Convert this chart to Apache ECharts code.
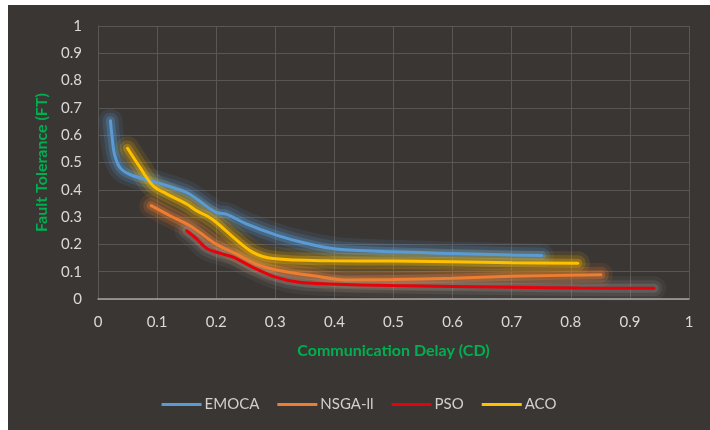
<!DOCTYPE html>
<html>
<head>
<meta charset="utf-8">
<script src="https://cdn.jsdelivr.net/npm/echarts@6/dist/echarts.min.js"></script>
<style>
  html, body { margin: 0; padding: 0; background: #ffffff; width: 710px; height: 430px; overflow: hidden; }
  #chart { position: absolute; left: 8px; top: 5px; width: 702px; height: 425px; }
</style>
</head>
<body>
<div id="chart"></div>
<script>
// Communication delay (x) and fault tolerance (y) for each algorithm's Pareto front
const emocaCD = [0.021, 0.024, 0.028, 0.037, 0.054, 0.099, 0.150, 0.167, 0.200, 0.217, 0.251, 0.302, 0.350, 0.403, 0.499, 0.600, 0.701, 0.751];
const emocaFT = [0.653, 0.590, 0.530, 0.482, 0.456, 0.427, 0.390, 0.366, 0.317, 0.311, 0.275, 0.234, 0.205, 0.183, 0.173, 0.167, 0.161, 0.159];

const nsgaCD = [0.090, 0.122, 0.155, 0.172, 0.200, 0.234, 0.268, 0.302, 0.364, 0.420, 0.499, 0.600, 0.701, 0.851];
const nsgaFT = [0.342, 0.305, 0.269, 0.244, 0.201, 0.165, 0.128, 0.106, 0.085, 0.070, 0.071, 0.076, 0.083, 0.089];

const psoCD = [0.150, 0.167, 0.184, 0.206, 0.229, 0.262, 0.302, 0.341, 0.392, 0.499, 0.701, 0.814, 0.941];
const psoFT = [0.250, 0.220, 0.185, 0.168, 0.153, 0.116, 0.079, 0.061, 0.055, 0.049, 0.043, 0.040, 0.039];

const acoCD = [0.050, 0.071, 0.093, 0.116, 0.150, 0.167, 0.184, 0.200, 0.229, 0.262, 0.296, 0.392, 0.499, 0.701, 0.812];
const acoFT = [0.552, 0.482, 0.415, 0.385, 0.348, 0.323, 0.305, 0.281, 0.226, 0.171, 0.148, 0.140, 0.139, 0.133, 0.131];

const seriesNames = ['EMOCA', 'NSGA-ll', 'PSO', 'ACO'];
const seriesColors = ['#5b9bd5', '#ed7d31', '#e8000b', '#ffc000'];
// soft halo colour drawn beneath each line
const glowColors = ['rgb(91,155,213)', 'rgb(237,125,49)', 'rgb(170,170,170)', 'rgb(255,192,0)'];
const glowAlpha = [0.3, 0.3, 0.2, 0.28];

function pairs(xs, ys) { return xs.map((x, i) => [x, ys[i]]); }
const allData = [pairs(emocaCD, emocaFT), pairs(nsgaCD, nsgaFT), pairs(psoCD, psoFT), pairs(acoCD, acoFT)];

const font = 'Lato, "Open Sans", sans-serif';
const tickFmt = v => String(Math.round(v * 10) / 10);

const series = [];
// halo layers first (wide, translucent), then the crisp lines on top
allData.forEach((d, i) => {
  [[24, 0.35], [16, 0.6], [9, 1]].forEach(([w, k]) => {
    series.push({
      name: seriesNames[i] + ' glow',
      type: 'line', data: d, smooth: 0.35, showSymbol: false, symbol: 'none',
      silent: true, z: 1,
      lineStyle: { width: w, color: glowColors[i], opacity: glowAlpha[i] * k, cap: 'round', join: 'round' }
    });
  });
});
allData.forEach((d, i) => {
  series.push({
    name: seriesNames[i],
    type: 'line', data: d, smooth: 0.35, showSymbol: false, symbol: 'none',
    color: seriesColors[i],
    lineStyle: { width: 3, color: seriesColors[i], cap: 'round' },
    z: i === 0 ? 3 : (i === 3 ? 4 : 2)
  });
});

const chart = echarts.init(document.getElementById('chart'));
chart.setOption({
  backgroundColor: '#3a3633',
  animation: false,
  grid: { left: 90, right: 21, top: 21, bottom: 131 },
  xAxis: {
    type: 'value', min: 0, max: 1, interval: 0.1,
    name: 'Communication Delay (CD)', nameLocation: 'middle', nameGap: 44,
    nameTextStyle: { color: '#00b050', fontWeight: 'bold', fontSize: 16, fontFamily: font },
    axisLine: { lineStyle: { color: '#a6a6a6', width: 1.5 } },
    axisTick: { show: false },
    axisLabel: { color: '#d9d9d9', fontSize: 15, fontFamily: font, margin: 16, formatter: tickFmt },
    splitLine: { show: true, lineStyle: { color: '#5a5653', width: 1 } }
  },
  yAxis: {
    type: 'value', min: 0, max: 1, interval: 0.1,
    name: 'Fault Tolerance (FT)', nameLocation: 'middle', nameGap: 46,
    nameTextStyle: { color: '#00b050', fontWeight: 'bold', fontSize: 16, fontFamily: font },
    axisLine: { show: true, lineStyle: { color: '#5a5653' } },
    axisTick: { show: false },
    axisLabel: { color: '#d9d9d9', fontSize: 15, fontFamily: font, margin: 16, formatter: tickFmt },
    splitLine: { show: true, lineStyle: { color: '#5a5653', width: 1 } }
  },
  legend: {
    data: seriesNames,
    bottom: 13, left: 'center',
    icon: 'rect', itemWidth: 40, itemHeight: 3, itemGap: 18,
    textStyle: { color: '#d0d0d0', fontSize: 15, fontFamily: font, padding: [0, 0, 0, -2] }
  },
  series: series
});
</script>
</body>
</html>
